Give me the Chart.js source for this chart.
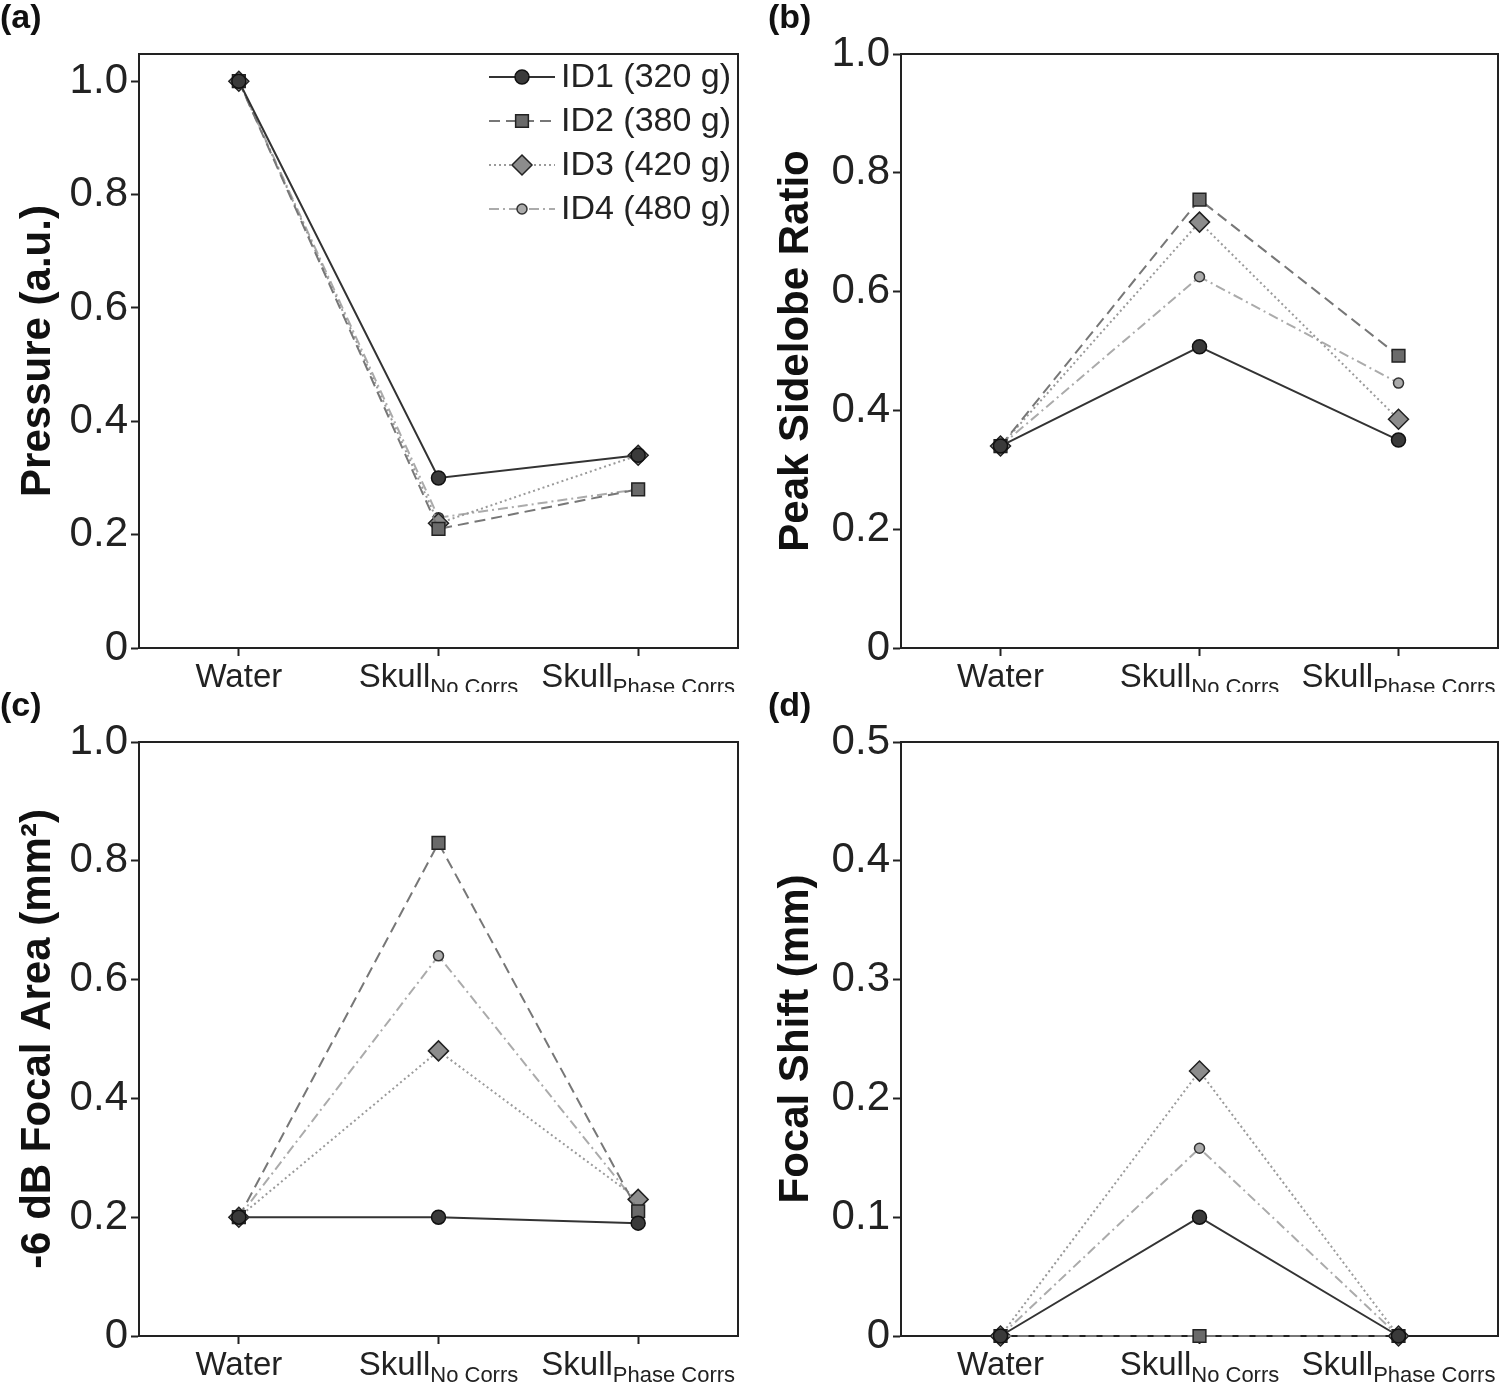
<!DOCTYPE html>
<html><head><meta charset="utf-8">
<script src="https://cdn.jsdelivr.net/npm/chart.js@4.4.1/dist/chart.umd.min.js"></script>
<style>
html,body{margin:0;padding:0;background:#fff;}
body{width:1500px;height:1384px;position:relative;overflow:hidden;}
canvas{position:absolute;}
</style></head><body>
<canvas id="ca" width="750" height="692" style="left:0;top:0"></canvas>
<canvas id="cb" width="752" height="692" style="left:758px;top:0"></canvas>
<canvas id="cc" width="750" height="696" style="left:0;top:688px"></canvas>
<canvas id="cd" width="752" height="696" style="left:758px;top:688px"></canvas>
<script>
// ---------- data ----------
const categories = ['Water', 'Skull', 'Skull'];
const categorySubs = ['', 'No Corrs', 'Phase Corrs'];
const seriesNames = ['ID1 (320 g)', 'ID2 (380 g)', 'ID3 (420 g)', 'ID4 (480 g)'];

const pressureID1 = [1.00, 0.30, 0.34];
const pressureID2 = [1.00, 0.21, 0.28];
const pressureID3 = [1.00, 0.22, 0.34];
const pressureID4 = [1.00, 0.23, 0.28];

const sidelobeID1 = [0.34, 0.507, 0.35];
const sidelobeID2 = [0.34, 0.755, 0.492];
const sidelobeID3 = [0.34, 0.717, 0.385];
const sidelobeID4 = [0.34, 0.625, 0.446];

const areaID1 = [0.20, 0.20, 0.19];
const areaID2 = [0.20, 0.83, 0.21];
const areaID3 = [0.20, 0.48, 0.23];
const areaID4 = [0.20, 0.64, 0.22];

const shiftID1 = [0, 0.10, 0];
const shiftID2 = [0, 0, 0];
const shiftID3 = [0, 0.223, 0];
const shiftID4 = [0, 0.158, 0];

const ticksUnit = [0, 0.2, 0.4, 0.6, 0.8, 1.0];
const ticksShift = [0, 0.1, 0.2, 0.3, 0.4, 0.5];

// ---------- styles ----------
const FONT = '"Liberation Sans", Arial, Helvetica, sans-serif';
const styles = [
  {color: '#333333', dash: [], pointStyle: 'circle', radius: 7, fill: '#3a3a3a', edge: '#111'},
  {color: '#777777', dash: [11, 6], pointStyle: 'rect', radius: 9, fill: '#6a6a6a', edge: '#222'},
  {color: '#9a9a9a', dash: [2, 3], pointStyle: 'rectRot', radius: 10, fill: '#8c8c8c', edge: '#222'},
  {color: '#ababab', dash: [10, 4, 2, 4], pointStyle: 'circle', radius: 5, fill: '#ababab', edge: '#333'}
];

function makeDatasets(arrs) {
  return arrs.map((d, i) => ({
    label: seriesNames[i],
    data: d,
    borderColor: styles[i].color,
    borderDash: styles[i].dash,
    borderWidth: 2,
    tension: 0,
    clip: false,
    pointStyle: styles[i].pointStyle,
    pointRadius: styles[i].radius,
    pointHoverRadius: styles[i].radius,
    pointBackgroundColor: styles[i].fill,
    pointBorderColor: styles[i].edge,
    pointBorderWidth: 1.5
  }));
}

const panelPlugin = {
  id: 'panel',
  beforeDatasetsDraw(chart) {
    const {ctx, chartArea: a} = chart;
    ctx.save();
    ctx.strokeStyle = '#222';
    ctx.lineWidth = 2;
    ctx.beginPath();
    ctx.moveTo(a.left - 1, a.top);
    ctx.lineTo(a.right, a.top);
    ctx.lineTo(a.right, a.bottom + 1);
    ctx.stroke();
    ctx.restore();
  },
  afterDraw(chart, args, opts) {
    const {ctx, chartArea: a} = chart;
    const xs = chart.scales.x;
    ctx.save();
    // panel letter
    ctx.fillStyle = '#111';
    ctx.font = 'bold 34px ' + FONT;
    ctx.textBaseline = 'top';
    ctx.textAlign = 'left';
    ctx.fillText(opts.letter, opts.letterX, opts.letterY);
    // category labels with subscripts
    ctx.fillStyle = '#222';
    ctx.textBaseline = 'alphabetic';
    for (let i = 0; i < categories.length; i++) {
      const x = xs.getPixelForValue(i);
      ctx.font = '33px ' + FONT;
      const wm = ctx.measureText(categories[i]).width;
      ctx.font = '22px ' + FONT;
      const ws = categorySubs[i] ? ctx.measureText(categorySubs[i]).width : 0;
      const x0 = x - (wm + ws) / 2;
      ctx.font = '33px ' + FONT;
      ctx.fillText(categories[i], x0, a.bottom + 39);
      if (categorySubs[i]) {
        ctx.font = '22px ' + FONT;
        ctx.fillText(categorySubs[i], x0 + wm, a.bottom + 46);
      }
    }
    // legend
    if (opts.legend) {
      const lx0 = 489, lx1 = 555, tx = 561;
      for (let i = 0; i < seriesNames.length; i++) {
        const y = 77 + i * 44;
        const st = styles[i];
        ctx.strokeStyle = st.color;
        ctx.lineWidth = 2;
        ctx.setLineDash(st.dash);
        ctx.beginPath();
        ctx.moveTo(lx0, y);
        ctx.lineTo(lx1, y);
        ctx.stroke();
        ctx.setLineDash([]);
        ctx.fillStyle = st.fill;
        ctx.strokeStyle = st.edge;
        ctx.lineWidth = 1.5;
        Chart.helpers.drawPoint(ctx, {pointStyle: st.pointStyle, rotation: 0, radius: st.radius, borderWidth: 1.5}, (lx0 + lx1) / 2, y);
        ctx.fillStyle = '#222';
        ctx.font = '34px ' + FONT;
        ctx.textBaseline = 'middle';
        ctx.fillText(seriesNames[i], tx, y + 1);
      }
    }
    ctx.restore();
  }
};

function makeChart(id, datasets, yTitle, yMax, yTicks, letter, opts) {
  const el = document.getElementById(id);
  return new Chart(el, {
    type: 'line',
    data: {labels: categories, datasets: makeDatasets(datasets)},
    plugins: [panelPlugin],
    options: {
      responsive: false,
      animation: false,
      devicePixelRatio: 1,
      layout: {padding: {left: 0, top: 54, right: opts.padRight, bottom: 0}},
      plugins: {
        legend: {display: false},
        tooltip: {enabled: false},
        panel: {letter: letter, letterX: opts.letterX, letterY: 2, legend: !!opts.legend}
      },
      scales: {
        x: {
          type: 'category',
          offset: true,
          afterFit: s => { s.height = opts.xHeight; },
          border: {display: true, color: '#222', width: 2},
          grid: {display: true, offset: false, drawOnChartArea: false, drawTicks: true, tickLength: 8, tickWidth: 2, tickColor: '#222'},
          ticks: {display: false}
        },
        y: {
          min: 0,
          max: yMax,
          afterBuildTicks: s => { s.ticks = yTicks.map(v => ({value: v})); },
          afterFit: s => { s.width = opts.yWidth; },
          border: {display: true, color: '#222', width: 2},
          grid: {display: true, drawOnChartArea: false, drawTicks: true, tickLength: 8, tickWidth: 2, tickColor: '#222'},
          ticks: {
            font: {family: FONT, size: 42},
            color: '#222',
            padding: 3,
            callback: v => (v === 0 ? '0' : Number(v).toFixed(1))
          },
          title: {
            display: true,
            text: yTitle,
            color: '#111',
            font: {family: FONT, size: 42, weight: 'bold'},
            padding: {top: 13, bottom: 0}
          }
        }
      }
    }
  });
}

makeChart('ca', [pressureID1, pressureID2, pressureID3, pressureID4],
  'Pressure (a.u.)', 1.048, ticksUnit, '(a)',
  {padRight: 12, xHeight: 44, yWidth: 139, letterX: 0, legend: true});
makeChart('cb', [sidelobeID1, sidelobeID2, sidelobeID3, sidelobeID4],
  'Peak Sidelobe Ratio', 1.0, ticksUnit, '(b)',
  {padRight: 12, xHeight: 44, yWidth: 143, letterX: 10});
makeChart('cc', [areaID1, areaID2, areaID3, areaID4],
  '-6 dB Focal Area (mm\u00B2)', 1.0, ticksUnit, '(c)',
  {padRight: 12, xHeight: 48, yWidth: 139, letterX: 0});
makeChart('cd', [shiftID1, shiftID2, shiftID3, shiftID4],
  'Focal Shift (mm)', 0.5, ticksShift, '(d)',
  {padRight: 12, xHeight: 48, yWidth: 143, letterX: 10});
</script>
</body></html>
